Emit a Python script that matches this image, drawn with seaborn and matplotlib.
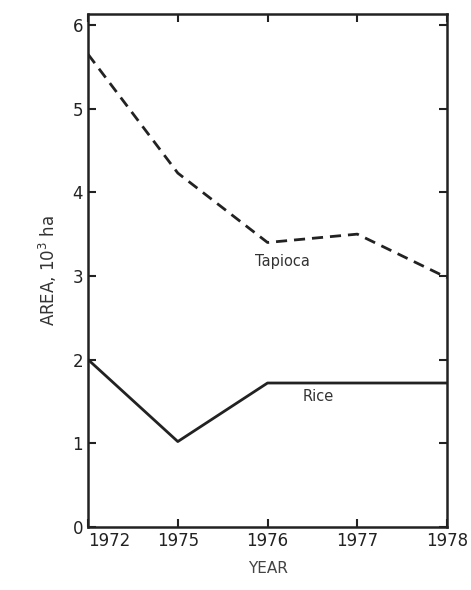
import pandas as pd
import seaborn as sns
import matplotlib.pyplot as plt

# 연도 (등간격 범주로 그림)
years = ['1972', '1975', '1976', '1977', '1978']
tapioca = [5.65, 4.23, 3.40, 3.50, 2.98]
rice = [2.0, 1.02, 1.72, 1.72, 1.72]

df = pd.DataFrame({'YEAR': years * 2,
                   'AREA': tapioca + rice,
                   'crop': ['Tapioca'] * 5 + ['Rice'] * 5})

sns.set_style('ticks')
plt.rcParams['font.family'] = ['DejaVu Sans']

fig = plt.figure(figsize=(4.71, 5.90), dpi=100)
ax = fig.add_axes([0.187, 0.107, 0.762, 0.869])

sns.lineplot(data=df, x='YEAR', y='AREA', style='crop',
             dashes={'Tapioca': (4, 2.5), 'Rice': ''},
             color='#222222', linewidth=2, legend=False, ax=ax)

ax.set_xlim(0, 4)
ax.set_ylim(0, 6.13)
ax.set_yticks(range(7))

for s in ax.spines.values():
    s.set_linewidth(1.8)
    s.set_color('#222222')
ax.tick_params(direction='in', top=True, right=True, length=6, width=1.5,
               labelsize=12, colors='#222222')
# 1972 라벨은 축 시작점에서 왼쪽 정렬
ax.get_xticklabels()[0].set_ha('left')

ax.text(2.17, 3.17, 'Tapioca', fontsize=10.5, color='#333333',
        ha='center', va='center')
ax.text(2.56, 1.56, 'Rice', fontsize=10.5, color='#333333',
        ha='center', va='center')

ax.set_xlabel('YEAR', fontsize=11, color='#444444', labelpad=8)
ax.set_ylabel('AREA, 10$^3$ ha', fontsize=12, color='#333333', labelpad=10)

fig.savefig('out.png', dpi=100)
